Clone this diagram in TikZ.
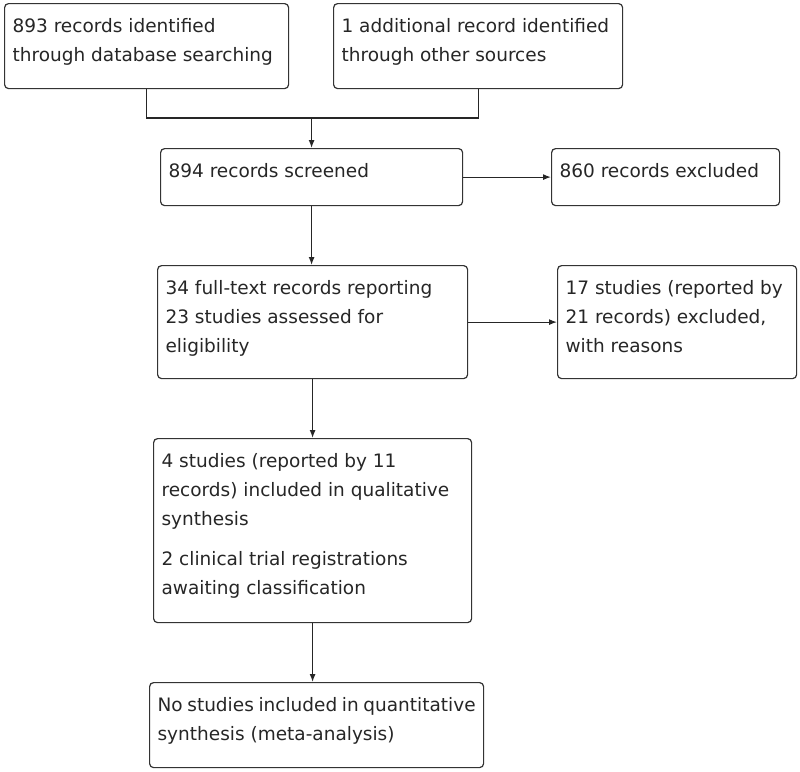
\documentclass[tikz,border=0pt]{standalone}
\usepackage{fontspec}
\setmainfont{DejaVu Sans}
\usetikzlibrary{calc,arrows.meta}
\tikzset{
  box/.style={draw=black!80, line width=1.2pt, rounded corners=4pt, anchor=north west,
    inner xsep=8pt, inner ysep=0pt, text=black!85},
  arrow/.style={-{Latex[length=8pt,width=6pt]}, line width=1.2pt, draw=black!85}
}
% text of a box: height, width, lines
\newcommand{\flowtext}[3]{\parbox[c][#1pt][t]{#2pt}{\fontsize{18.5}{29}\selectfont\rule{0pt}{29pt}#3}}
\begin{document}
\begin{tikzpicture}[x=1pt, y=-1pt]
    \useasboundingbox (0,0) rectangle (800,771);
    \node[box] (dbase)   at (4,3)     {\flowtext{85}{268}{893 records identified\\through database searching}};
    \node[box] (other)   at (333,3)   {\flowtext{85}{273}{1 additional record identified\\through other sources}};
    \node[box] (screen)  at (160,148) {\flowtext{57}{286}{894 records screened}};
    \node[box] (excl)    at (551,148) {\flowtext{57}{212}{860 records excluded}};
    \node[box] (full)    at (157,265) {\flowtext{113}{294}{34 full-text records reporting\\23 studies assessed for\\eligibility}};
    \node[box] (fullex)  at (557,265) {\flowtext{113}{223}{17 studies (reported by\\21 records) excluded,\\with reasons}};
    \node[box] (qual)    at (153,438) {\flowtext{184}{302}{4 studies (reported by 11\\records) included in qualitative\\synthesis\\[11pt]2 clinical trial registrations\\awaiting classification}};
    \node[box] (quant)   at (149,682) {\flowtext{85}{318}{No studies included in quantitative\\synthesis (meta-analysis)}};
    \coordinate (join) at ($(screen.north)+(0,-30)$);
    \draw[line width=1.2pt, black!85] (dbase.south) |- (join) -| (other.south);
    \draw[arrow] (join) -- (screen.north);
    \draw[arrow] (screen.east) -- (excl.west);
    \draw[arrow] (screen.south) -- (screen.south |- full.north);
    \draw[arrow] (full.east) -- (fullex.west);
    \draw[arrow] (full.south) -- (full.south |- qual.north);
    \draw[arrow] (qual.south) -- (qual.south |- quant.north);
\end{tikzpicture}
\end{document}
